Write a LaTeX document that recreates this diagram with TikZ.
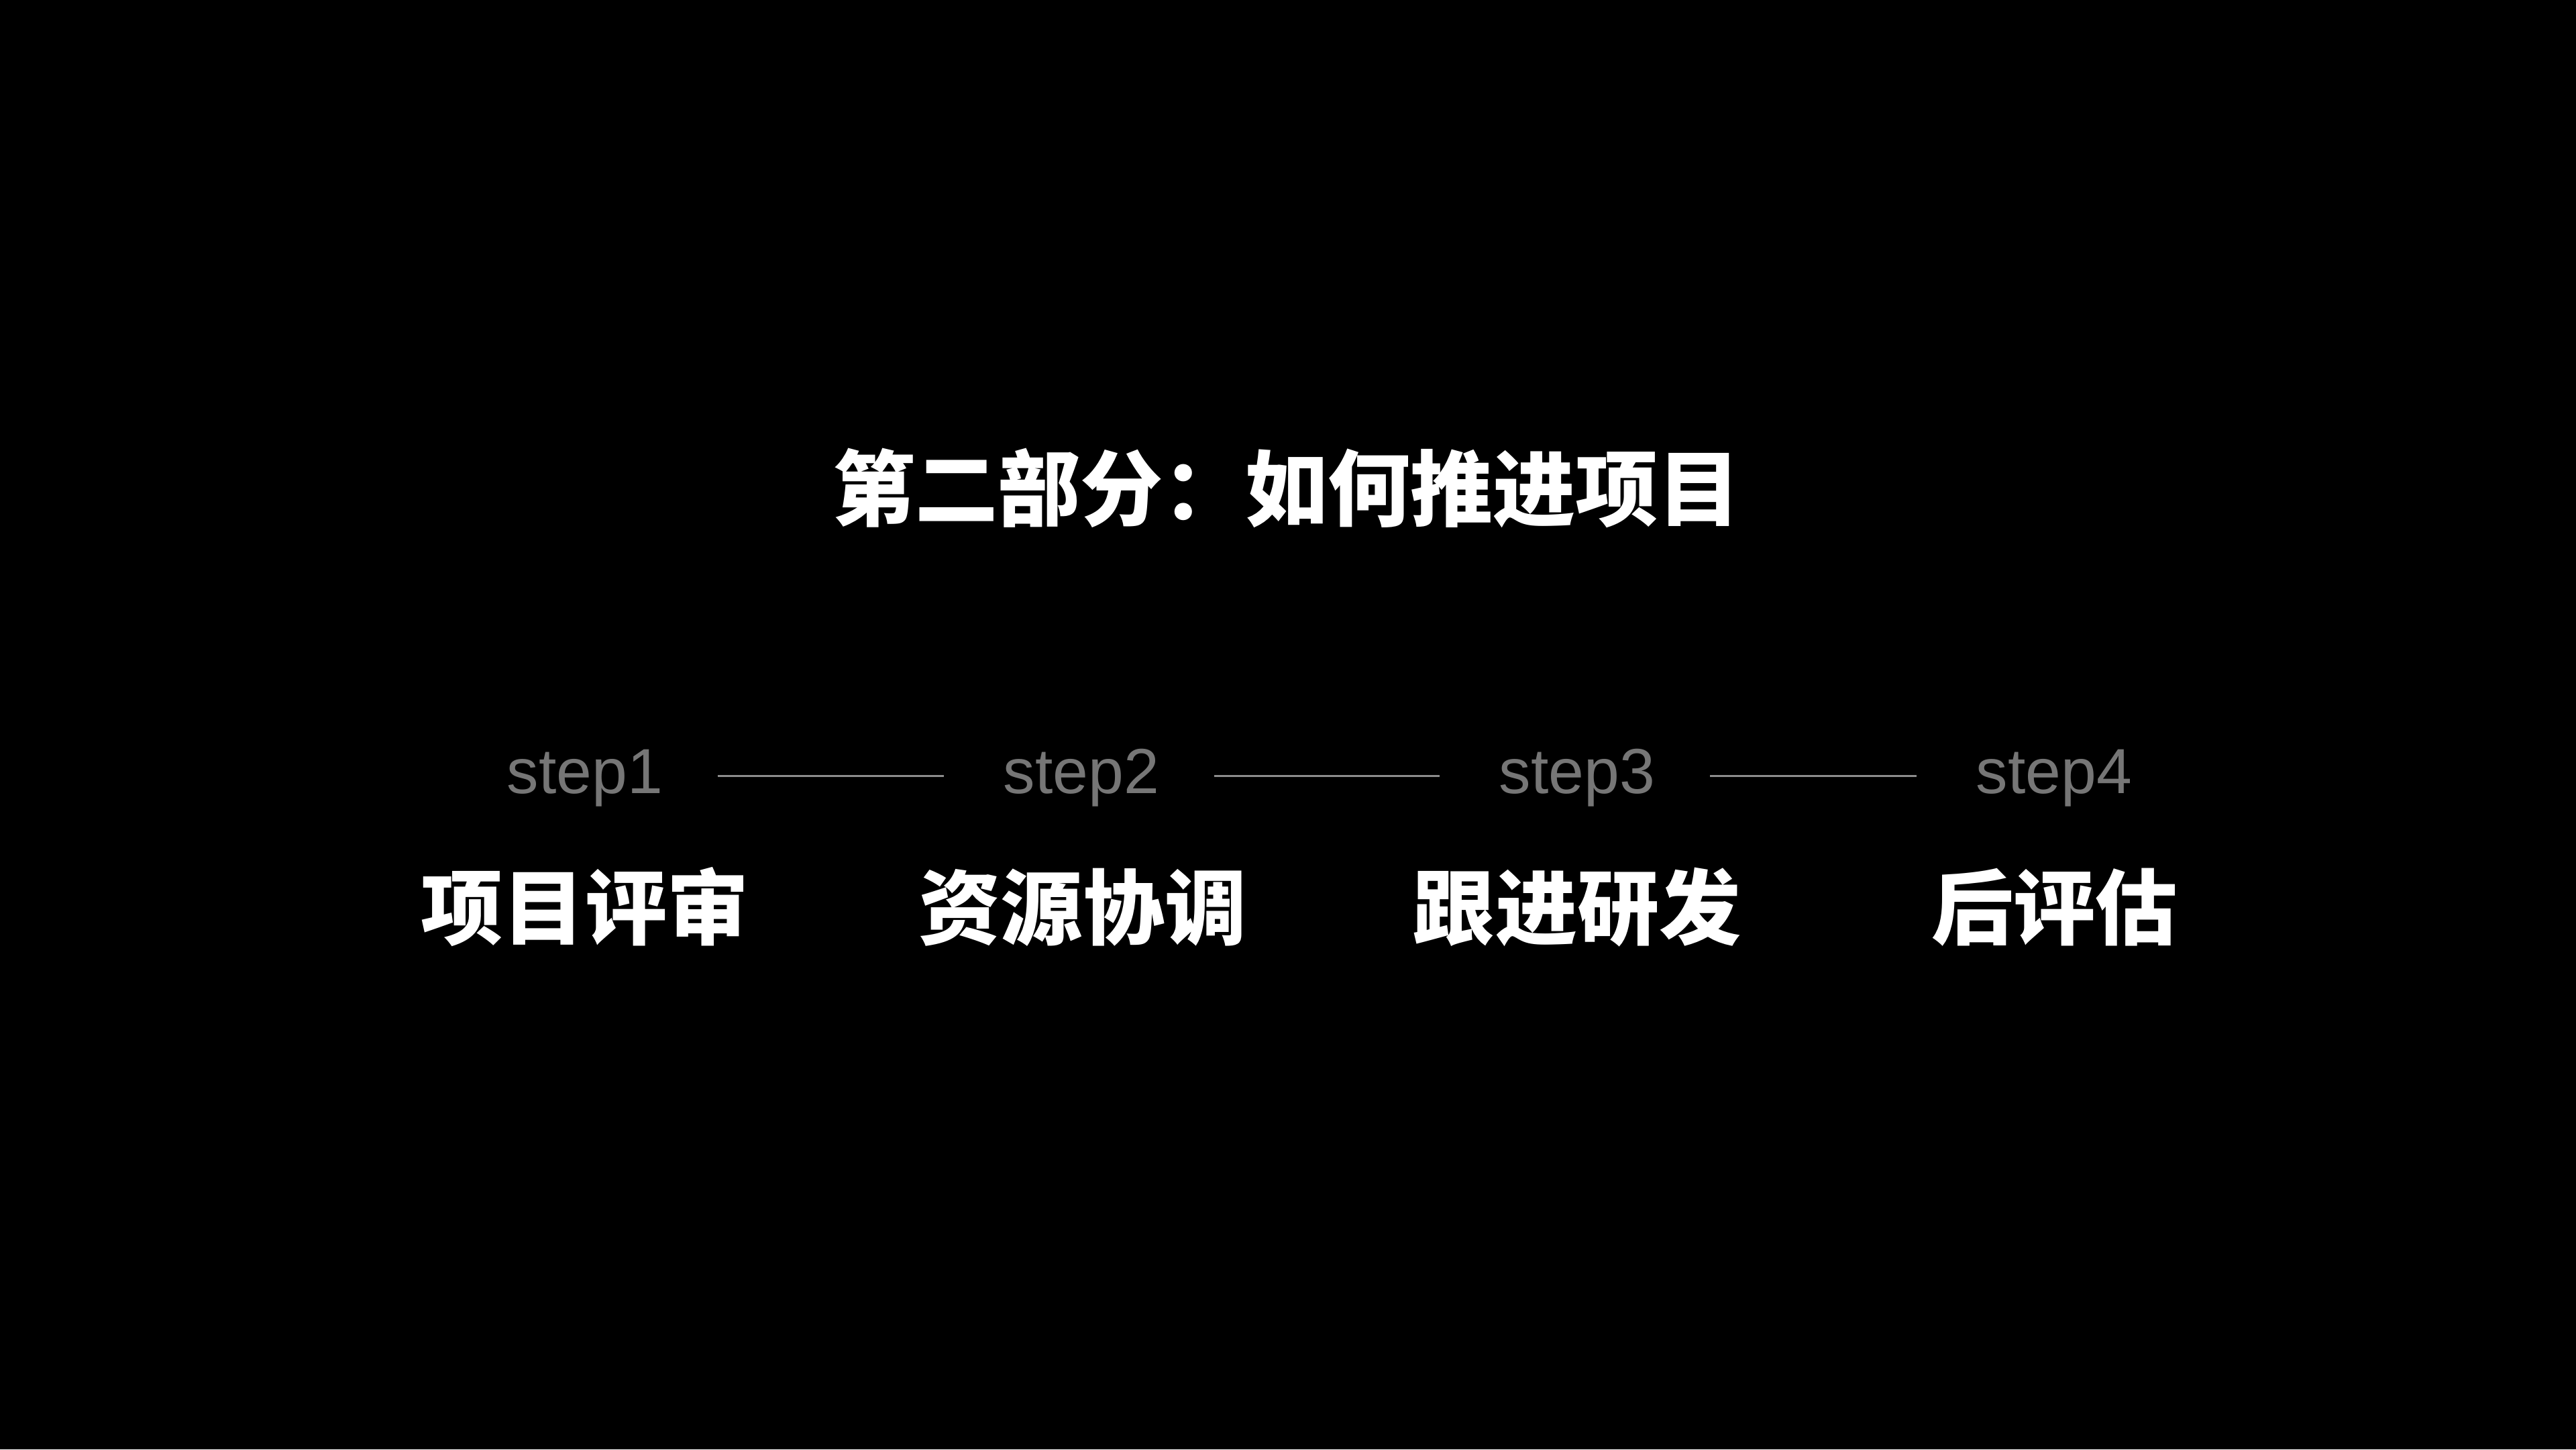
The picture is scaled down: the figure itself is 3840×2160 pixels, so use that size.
\documentclass[tikz,border=0pt]{standalone}
\usepackage{fontspec}
\setmainfont{Liberation Sans}
\newfontfamily\cjk{Noto Sans CJK SC}
\definecolor{stepgrey}{HTML}{767676}
\definecolor{linegrey}{HTML}{8C8C8C}
\begin{document}
\begin{tikzpicture}[x=0.01cm,y=-0.01cm,
  title/.style={text=white,inner sep=0pt,anchor=base,font=\cjk\bfseries\fontsize{35pt}{40pt}\selectfont},
  lab/.style={text=white,inner sep=0pt,anchor=base,font=\cjk\bfseries\fontsize{34.7pt}{40pt}\selectfont},
  steplab/.style={text=stepgrey,inner sep=0pt,anchor=base,text height=0.75em,text depth=0.25em,font=\fontsize{27pt}{30pt}\selectfont},
  conn/.style={draw=linegrey,line width=0.9pt,shorten <=23pt,shorten >=25pt}]
\fill[black] (0,0) rectangle (3840,2160);
\useasboundingbox (0,0) rectangle (3840,2160);
\node[title] (t) at (1918,774) {第二部分：如何推进项目};
\node[steplab] (s1) at (872,1182) {step1};
\node[steplab] (s2) at (1612,1182) {step2};
\node[steplab] (s3) at (2351,1182) {step3};
\node[steplab] (s4) at (3062,1182) {step4};
\node[lab] (l1) at (872,1398) {项目评审};
\node[lab] (l2) at (1614,1398) {资源协调};
\node[lab] (l3) at (2351,1398) {跟进研发};
\node[lab] (l4) at (3062,1398) {后评估};
\draw[conn] ([yshift=4.8pt]s1.east) -- ([yshift=4.8pt]s2.west);
\draw[conn] ([yshift=4.8pt]s2.east) -- ([yshift=4.8pt]s3.west);
\draw[conn] ([yshift=4.8pt]s3.east) -- ([yshift=4.8pt]s4.west);
\end{tikzpicture}
\end{document}
